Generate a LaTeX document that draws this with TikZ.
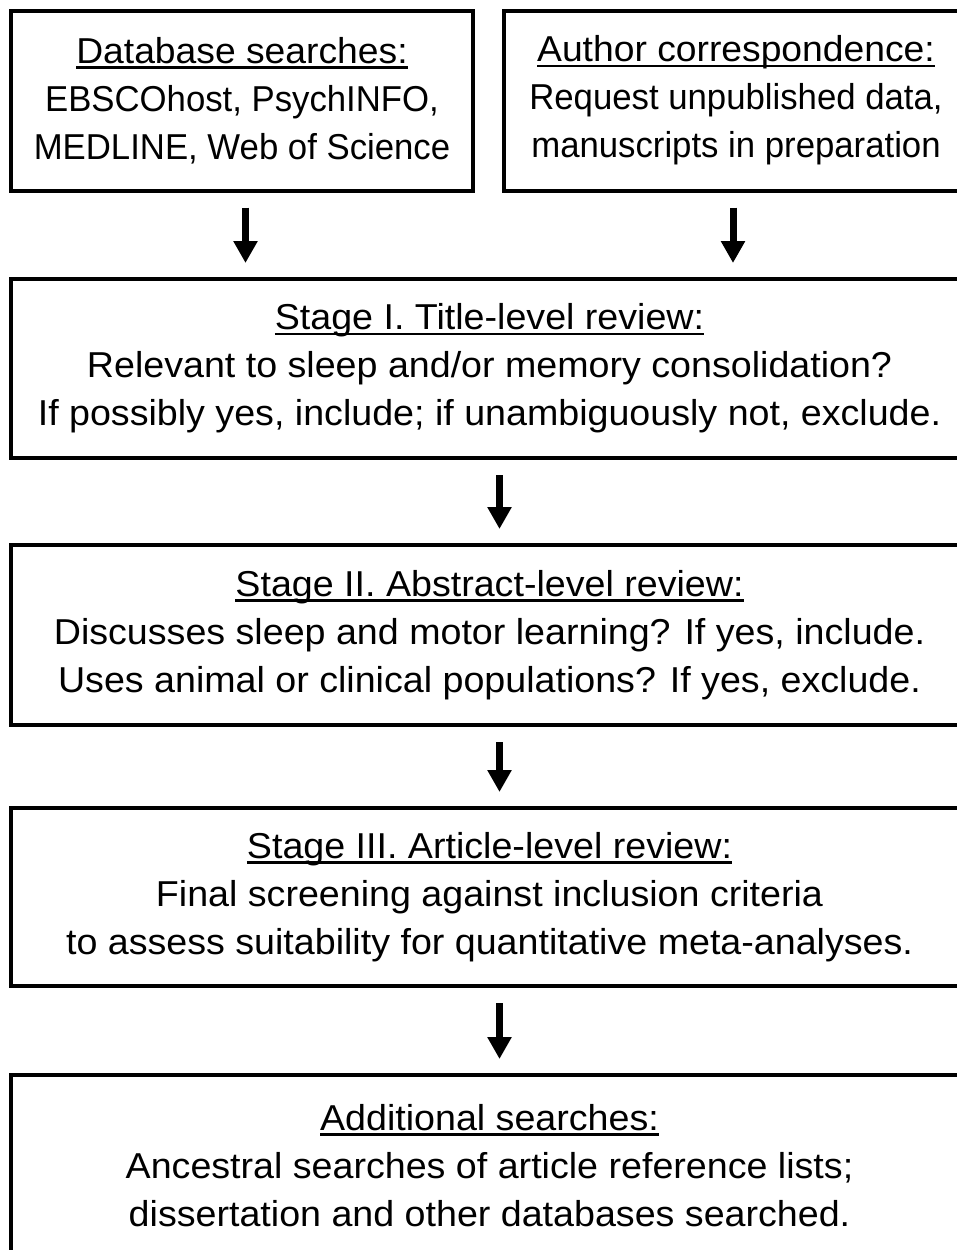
\documentclass[tikz,border=0pt]{standalone}
\usepackage{fontspec}
\setmainfont{Liberation Sans}
\newfontfamily\widefont[FakeStretch=1.045]{Liberation Sans}
\newfontfamily\headfont[FakeStretch=1.035]{Liberation Sans}
\newfontfamily\narrowfont[FakeStretch=0.965]{Liberation Sans}
\usetikzlibrary{arrows.meta}
\newsavebox{\headbox}
\newcommand{\headline}[1]{\sbox{\headbox}{#1}\rlap{\rule[-5.5pt]{\wd\headbox}{2.8pt}}\usebox{\headbox}}
\begin{document}
\begin{tikzpicture}[x=1pt, y=-1pt,
  box/.style={draw, line width=4pt, align=center, inner sep=0pt,
    font=\fontsize{36}{48}\selectfont},
  stagebox/.style={box, minimum width=957pt, font=\fontsize{36}{48}\selectfont\widefont},
  flow/.style={line width=7pt, -{Triangle[width=23pt,length=22pt]},
    shorten <=15pt, shorten >=14pt}]
\useasboundingbox (0,0) rectangle (957,1250);
\node[box, minimum width=462pt, minimum height=180pt] (dbs) at (242,100.5){\headline{\headfont Database searches:}\\ \narrowfont EBSCOhost, PsychINFO,\\ \narrowfont MEDLINE, Web of Science};
\node[box, minimum width=464pt, minimum height=180pt] (authors) at (736,100.5){\headline{\headfont Author correspondence:}\\ \narrowfont Request unpublished data,\\ \narrowfont manuscripts in preparation};
\node[stagebox, minimum height=179pt] (stageone) at (489.5,368.5){\headline{Stage I. Title-level review:}\\ Relevant to sleep and/or memory consolidation?\\ If possibly yes, include; if unambiguously not, exclude.};
\node[stagebox, minimum height=180pt] (stagetwo) at (489.5,635){\headline{Stage II. Abstract-level review:}\\ Discusses sleep and motor learning? If yes, include.\\ Uses animal or clinical populations? If yes, exclude.};
\node[stagebox, minimum height=178pt] (stagethree) at (489.5,897){\headline{Stage III. Article-level review:}\\ Final screening against inclusion criteria\\ to assess suitability for quantitative meta-analyses.};
\node[stagebox, minimum height=181pt] (extra) at (489.5,1165.5){\headline{Additional searches:}\\ Ancestral searches of article reference lists;\\ dissertation and other databases searched.};
\draw[flow] ([xshift=3.5pt]dbs.south) -- ([xshift=3.5pt]dbs.south |- stageone.north);
\draw[flow] ([xshift=-3pt]authors.south) -- ([xshift=-3pt]authors.south |- stageone.north);
\draw[flow] ([xshift=10pt]stageone.south) -- ([xshift=10pt]stagetwo.north);
\draw[flow] ([xshift=10pt]stagetwo.south) -- ([xshift=10pt]stagethree.north);
\draw[flow] ([xshift=10pt]stagethree.south) -- ([xshift=10pt]extra.north);
\end{tikzpicture}
\end{document}
